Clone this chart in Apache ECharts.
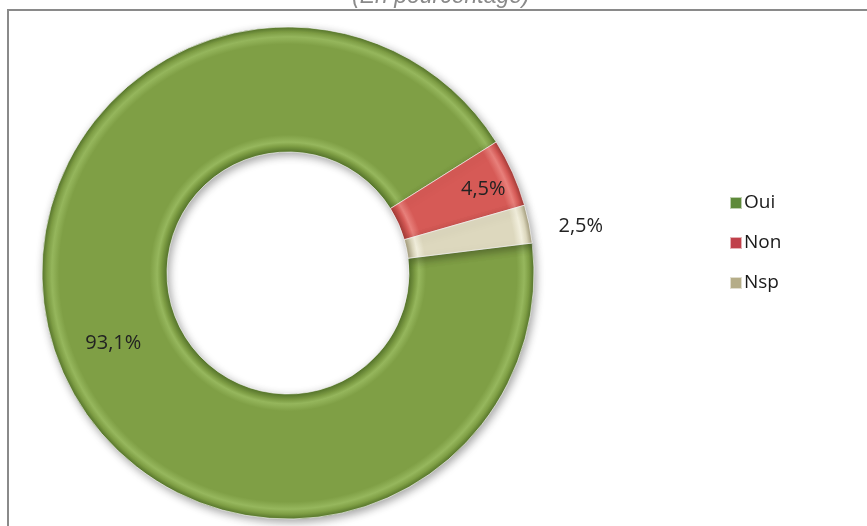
<!DOCTYPE html>
<html>
<head>
<meta charset="utf-8">
<script src="https://cdn.jsdelivr.net/npm/echarts@6/dist/echarts.min.js"></script>
<style>
  html, body { margin: 0; padding: 0; background: #fff; }
  #chart { width: 867px; height: 526px; }
</style>
</head>
<body>
<div id="chart"></div>
<script>
// REPONSES (en pourcentage)
const categories = ["Oui", "Non", "Nsp"];
const values = [93.1, 4.5, 2.5];
const labels = ["93,1%", "4,5%", "2,5%"];

const baseColors = ["#7f9f45", "#d65a56", "#ddd8be"];
const edgeColors = ["#56752b", "#a33a36", "#a39c7c"];
const lightColors = ["#96b75d", "#e8807b", "#f2efdd"];
const legendColors = ["#5e8a3a", "#c0404a", "#b5ad88"];

const cx = 288;
const cy = 273;
const outerR = 246;
const innerR = 121;

// label nudges so the text sits where the original puts it
const labelOffsets = [[1, 8], [25, -8], [110, -10]];

let chart = echarts.init(document.getElementById("chart"));

function bevelFill(i) {
  const a = innerR / outerR;
  return {
    type: "radial",
    x: cx,
    y: cy,
    r: outerR,
    global: true,
    colorStops: [
      { offset: 0, color: edgeColors[i] },
      { offset: a, color: edgeColors[i] },
      { offset: a + 0.025, color: baseColors[i] },
      { offset: a + 0.04, color: lightColors[i] },
      { offset: a + 0.07, color: baseColors[i] },
      { offset: 0.93, color: baseColors[i] },
      { offset: 0.96, color: lightColors[i] },
      { offset: 0.98, color: baseColors[i] },
      { offset: 1, color: edgeColors[i] },
    ],
  };
}

let seriesData = categories.map((name, i) => ({
  name: name,
  value: values[i],
  itemStyle: { color: bevelFill(i) },
  label: {
    formatter: labels[i],
    offset: labelOffsets[i],
  },
}));

let option = {
  backgroundColor: "#fff",
  animation: false,
  graphic: [
    {
      type: "rect",
      shape: { x: 8, y: 10, width: 900, height: 560 },
      style: { fill: "none", stroke: "#8a8a8a", lineWidth: 2 },
      z: -10,
    },
    {
      type: "text",
      left: 352,
      top: -15,
      style: {
        text: "(En pourcentage)",
        font: "italic 23px 'Liberation Sans', sans-serif",
        fill: "#8a8a8a",
      },
    },
  ],
  legend: {
    orient: "vertical",
    left: 729,
    top: 193,
    padding: 0,
    icon: "rect",
    itemWidth: 12,
    itemHeight: 12,
    itemGap: 20,
    textStyle: {
      fontFamily: "'Open Sans', sans-serif",
      fontSize: 19,
      lineHeight: 20,
      color: "#1a1a1a",
      padding: [0, 0, 0, -3],
    },
    data: categories.map((name, i) => ({
      name: name,
      itemStyle: { color: legendColors[i] },
    })),
  },
  series: [
    {
      type: "pie",
      center: [cx, cy],
      radius: [innerR, outerR],
      startAngle: 7,
      clockwise: true,
      avoidLabelOverlap: false,
      itemStyle: {
        borderColor: "rgba(255,255,255,0.6)",
        borderWidth: 1,
        shadowBlur: 8,
        shadowColor: "rgba(0,0,0,0.35)",
        shadowOffsetX: 2,
        shadowOffsetY: 3,
      },
      label: {
        show: true,
        position: "inside",
        fontFamily: "'Open Sans', sans-serif",
        fontSize: 20,
        color: "#222",
      },
      labelLine: { show: false },
      emphasis: { disabled: true },
      data: seriesData,
    },
  ],
};

chart.setOption(option, true);
</script>
</body>
</html>
